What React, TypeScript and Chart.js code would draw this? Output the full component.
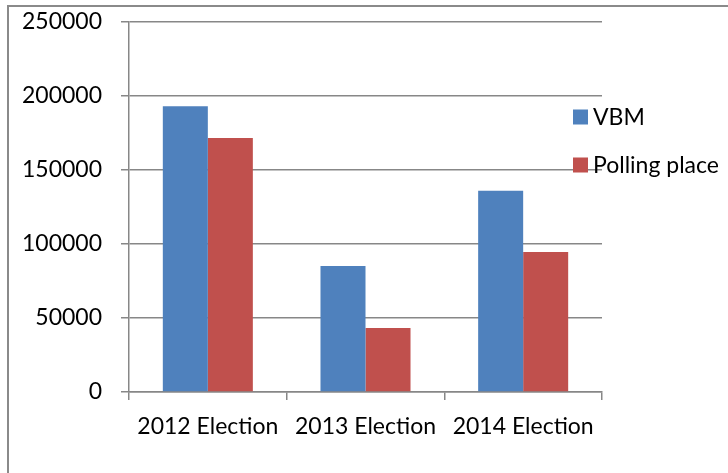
import React, { useRef, useEffect } from 'react';
import { Chart, registerables } from 'chart.js';

Chart.register(...registerables);

const elections = ['2012 Election', '2013 Election', '2014 Election'];
const vbmVotes = [193000, 85100, 136000];
const pollingVotes = [171600, 43300, 94600];
const seriesNames = ['VBM', 'Polling place'];
const seriesColors = ['#4F81BD', '#C0504D'];

const FONT = { family: 'Lato, "Noto Sans", sans-serif', size: 23 };
const GRID = '#878787';

// legend drawn by hand so it can sit over the right edge of the plot like the original
const sideLegend = {
  id: 'sideLegend',
  afterDraw(chart: Chart) {
    const { ctx, chartArea } = chart;
    ctx.save();
    ctx.font = `${FONT.size}px ${FONT.family}`;
    ctx.textBaseline = 'middle';
    ctx.fillStyle = '#000';
    chart.data.datasets.forEach((ds, i) => {
      const cy = chartArea.top + 95 + i * 48;
      const x = chartArea.right - 29;
      ctx.fillStyle = ds.backgroundColor as string;
      ctx.fillRect(x, cy - 7.5, 15, 15);
      ctx.fillStyle = '#000';
      ctx.fillText(ds.label || '', x + 20, cy + 1);
    });
    ctx.restore();
  },
};

const ElectionChart: React.FC = () => {
  const canvasRef = useRef<HTMLCanvasElement>(null);
  const chartRef = useRef<Chart | null>(null);

  useEffect(() => {
    if (!canvasRef.current) return;
    if (chartRef.current) chartRef.current.destroy();

    chartRef.current = new Chart(canvasRef.current, {
      type: 'bar',
      data: {
        labels: elections,
        datasets: [
          { label: seriesNames[0], data: vbmVotes, backgroundColor: seriesColors[0] },
          { label: seriesNames[1], data: pollingVotes, backgroundColor: seriesColors[1] },
        ],
      },
      options: {
        responsive: true,
        maintainAspectRatio: false,
        animation: false,
        datasets: { bar: { barPercentage: 1, categoryPercentage: 0.571 } },
        layout: { padding: { left: 0, right: 126, top: 22, bottom: 0 } },
        plugins: {
          legend: { display: false },
          tooltip: { enabled: false },
        },
        scales: {
          x: {
            afterFit: (s: any) => { s.height = 81; s.paddingLeft = 0; s.paddingRight = 0; },
            grid: { drawOnChartArea: false, drawTicks: true, tickLength: 8, color: GRID, lineWidth: 1.5, offset: true },
            border: { display: true, color: GRID, width: 1.5 },
            ticks: { color: '#000', font: FONT, padding: 13, maxRotation: 0 },
          },
          y: {
            min: 0,
            max: 250000,
            afterFit: (s: any) => { s.width = 129; s.paddingTop = 0; s.paddingBottom = 0; },
            grid: { color: GRID, lineWidth: 1.5, tickLength: 8 },
            border: { display: true, color: GRID, width: 1.5 },
            ticks: { stepSize: 50000, color: '#000', font: FONT, padding: 19, callback: (v: any) => String(v) },
          },
        },
      },
      plugins: [sideLegend],
    });

    return () => {
      if (chartRef.current) {
        chartRef.current.destroy();
        chartRef.current = null;
      }
    };
  }, []);

  return (
    <div style={{ position: 'absolute', left: 0, top: 0, width: 728, height: 473, overflow: 'hidden', background: '#fff' }}>
      <div style={{ position: 'absolute', left: 7, top: 5, width: 900, height: 700, border: '2px solid #8a8a8a' }} />
      <div style={{ position: 'absolute', left: 0, top: 0, width: 728, height: 473 }}>
        <canvas ref={canvasRef} />
      </div>
    </div>
  );
};

export default function App() {
  return <ElectionChart />;
}
